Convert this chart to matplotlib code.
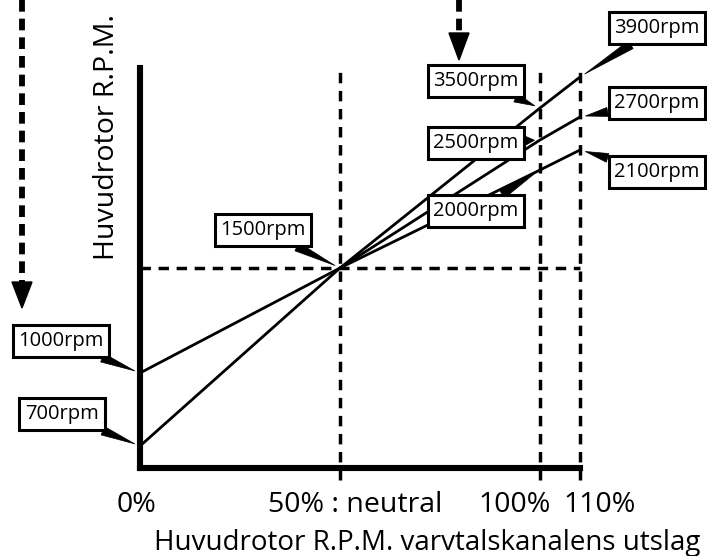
import numpy as np
import matplotlib
matplotlib.use('Agg')
import matplotlib.pyplot as plt

plt.rcParams['font.family'] = ['Open Sans', 'DejaVu Sans']

# kurvor: huvudrotorns varvtal mot kanalens utslag (%)
pct_full = [0, 50, 100, 110]
rpm_high = [700, 1500, 3500, 3900]
pct_mid = [50, 100, 110]
rpm_mid = [1500, 2500, 2700]
rpm_low = [1000, 1500, 2000, 2100]
neutral_rpm = 1500

tick_pcts = [0, 50, 100, 110]
tick_labels = ['0%', '50% : neutral', '100%', '110%']

# punkter som får en etikett (utslag %, rpm)
label_pcts = [110, 100, 110, 100, 110, 100, 50, 0, 0]
label_rpms = [3900, 3500, 2700, 2500, 2100, 2000, 1500, 1000, 700]

# schematisk y-skala: rpm -> höjd (px) ovanför x-axeln
scale_rpm = [0, 700, 1000, 1500, 2000, 2100, 2500, 2700, 3500, 3900, 4000]
scale_h = [0, 22, 95, 200, 298, 318, 328, 351, 360, 391, 400]


def fwd(v):
    return np.interp(v, scale_rpm, scale_h)


def inv(v):
    return np.interp(v, scale_h, scale_rpm)


W, H = 707, 556
fig = plt.figure(figsize=(W / 100, H / 100), dpi=100)
ax = fig.add_axes([140 / W, 88 / H, 440 / W, 400 / H])
ax.set_yscale('function', functions=(fwd, inv))
ax.set_xlim(0, 110)
ax.set_ylim(0, 4000)

dash = dict(color='black', lw=2.5, dashes=(3.0, 2.2), clip_on=False)
for p in [50, 100, 110]:
    ax.plot([p, p], [-0.03, 1.0], transform=ax.get_xaxis_transform(), **dash)
ax.plot([0, 110], [neutral_rpm, neutral_rpm], **dash)

line = dict(color='black', lw=2.0, clip_on=False, zorder=3)
ax.plot(pct_full, rpm_high, **line)
ax.plot(pct_mid, rpm_mid, **line)
ax.plot(pct_full, rpm_low, **line)

for s in ['top', 'right']:
    ax.spines[s].set_visible(False)
for s in ['left', 'bottom']:
    ax.spines[s].set_linewidth(4.4)
    ax.spines[s].set_capstyle('projecting')
ax.set_xticks([])
ax.set_yticks([neutral_rpm])
ax.set_yticklabels([])
ax.yaxis.set_minor_locator(matplotlib.ticker.NullLocator())
ax.tick_params(axis='y', direction='in', length=6, width=2)

# etikettrutor: förskjutning i px från punkten till rutans mitt
box_dx = [77, -64, 77, -64, 77, -64, -77, -79, -78]
box_dy = [49, 27, 14, -3, -22, -41, 38, 32, 32]
for p, r, dx, dy in zip(label_pcts, label_rpms, box_dx, box_dy):
    ax.annotate(f'{r}rpm', xy=(p, r), xytext=(dx * 0.72, dy * 0.72),
                textcoords='offset points', ha='center', va='center',
                fontsize=14.5, zorder=6, annotation_clip=False,
                bbox=dict(boxstyle='square,pad=0.28', fc='white', ec='black', lw=2.2),
                arrowprops=dict(arrowstyle='wedge,tail_width=0.45', fc='black',
                                ec='black', lw=0.5, shrinkA=0, shrinkB=4))

tick_dx = [-4, 15, -25, 20]
for p, lab, dx in zip(tick_pcts, tick_labels, tick_dx):
    ax.annotate(lab, xy=(p, 0), xycoords=('data', 'axes fraction'),
                xytext=(dx * 0.72, -44 * 0.72), textcoords='offset points',
                ha='center', va='baseline', fontsize=20.5, annotation_clip=False)

fig.text(427 / W, 6 / H, 'Huvudrotor R.P.M. varvtalskanalens utslag',
         ha='center', va='baseline', fontsize=20)
fig.text(107 / W, 1 - 137 / H, 'Huvudrotor R.P.M.', rotation=90,
         ha='center', va='center', fontsize=20.5)

# streckade pilar (dekor) i pixelkoordinater
deco = fig.add_axes([0, 0, 1, 1], zorder=-1)
deco.set_xlim(0, W)
deco.set_ylim(H, 0)
deco.axis('off')
for x0, y_head, y_tip in [(22, 282, 308), (459, 33, 60)]:
    deco.plot([x0, x0], [0, y_head], color='black', lw=4.2, dashes=(2.0, 1.2))
    deco.fill([x0 - 10, x0 + 10, x0], [y_head, y_head, y_tip], color='black')

fig.savefig('out.png', dpi=100)
